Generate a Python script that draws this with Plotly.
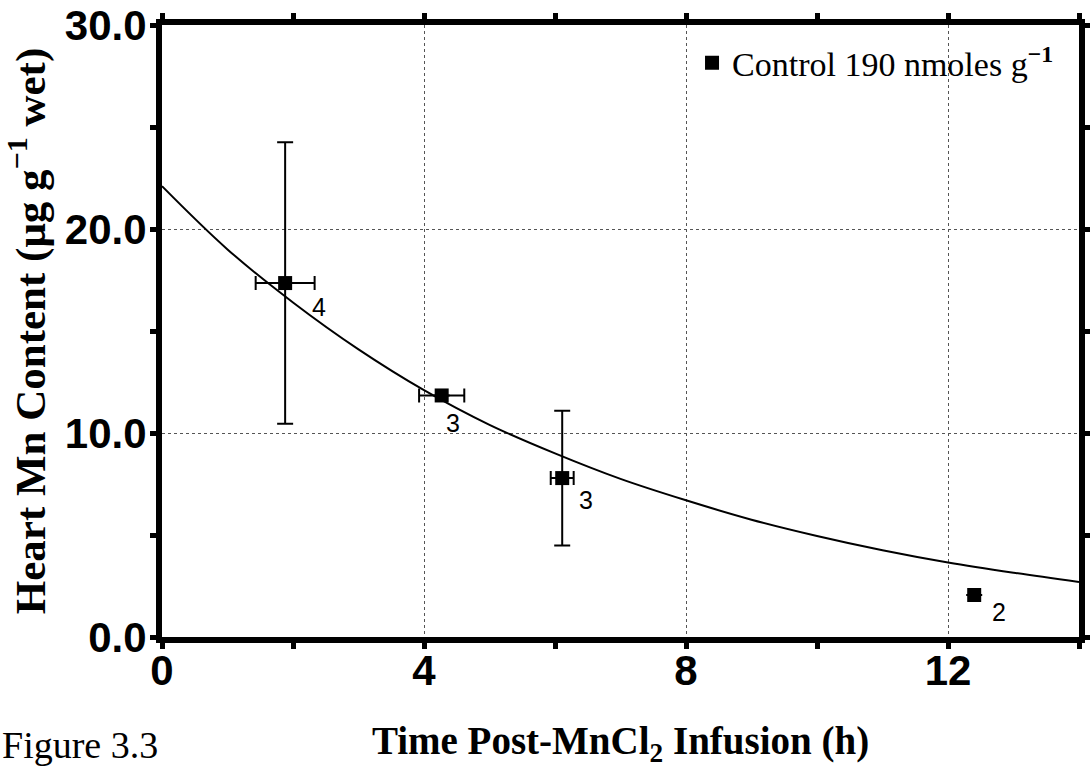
import plotly.graph_objects as go

# ---- data ----
time_h = [1.88, 4.27, 6.11, 12.40]
mn_content = [17.35, 11.84, 7.79, 2.06]
time_err = [0.45, 0.345, 0.175, 0.0]
mn_err = [6.9, 0.0, 3.3, 0.0]
n_animals = ["4", "3", "3", "2"]

curve_t = [0, 1, 2, 3, 4, 5, 6, 7, 8, 9, 10, 11, 12, 13, 14]
curve_y = [22.1, 19.0, 16.4, 14.1, 12.1, 10.4, 9.0, 7.75, 6.7, 5.75, 4.95, 4.25, 3.65, 3.15, 2.7]

x_ticks = [0, 4, 8, 12]
x_tick_labels = ["0", "4", "8", "12"]
y_ticks = [0, 10, 20, 30]
y_tick_labels = ["0.0", "10.0", "20.0", "30.0"]

legend_name = "Control 190 nmoles g<sup><b>\u22121</b></sup>"

# label offsets in pixels (dx, dy) for the n labels
label_offsets = [(34, -24), (11, -28), (24, -22), (25, -17)]

fig = go.Figure()

fig.add_trace(go.Scatter(
    x=curve_t, y=curve_y, mode="lines", line=dict(color="black", width=2, shape="spline"),
    showlegend=False, hoverinfo="skip"))

fig.add_trace(go.Scatter(
    x=time_h, y=mn_content, mode="markers", name=legend_name,
    marker=dict(symbol="square", size=14, color="black"),
    error_x=dict(type="data", array=time_err, visible=True, color="black", thickness=2, width=7),
    error_y=dict(type="data", array=mn_err, visible=True, color="black", thickness=2, width=8),
))

for xv, yv, lab, (dx, dy) in zip(time_h, mn_content, n_animals, label_offsets):
    fig.add_annotation(x=xv, y=yv, text=lab, showarrow=False, xshift=dx, yshift=dy,
                       font=dict(family="Liberation Sans, Arial", size=25, color="black"))

fig.add_annotation(xref="paper", yref="paper", x=-0.1767, y=-0.176, xanchor="left", yanchor="middle",
                   text="Figure 3.3", showarrow=False,
                   font=dict(family="Liberation Serif, Times New Roman", size=38, color="black"))

axis_common = dict(
    showline=True, linewidth=6, linecolor="black", mirror="allticks",
    ticks="outside", ticklen=6, tickwidth=5, tickcolor="black",
    showgrid=True, gridcolor="#555555", gridwidth=1, griddash="dot",
    zeroline=False, automargin=False,
    tickfont=dict(family="Liberation Sans, Arial", size=42, color="black", weight="bold"),
)

fig.update_xaxes(
    range=[0, 14], tickmode="array", tickvals=x_ticks, ticktext=x_tick_labels,
    ticklabelstandoff=-14,
    minor=dict(dtick=2, ticks="outside", ticklen=6, tickwidth=5, tickcolor="black", showgrid=False),
    title=dict(text="Time Post-MnCl<sub>2</sub> Infusion (h)", standoff=47,
               font=dict(family="Liberation Serif, Times New Roman", size=39, color="black", weight="bold")),
    **axis_common)

fig.update_yaxes(
    range=[0, 30], tickmode="array", tickvals=y_ticks, ticktext=y_tick_labels,
    ticklabelstandoff=-5,
    minor=dict(dtick=5, ticks="outside", ticklen=6, tickwidth=5, tickcolor="black", showgrid=False),
    title=dict(text="Heart Mn Content (\u03bcg g<sup>\u22121</sup> wet)", standoff=17,
               font=dict(family="Liberation Serif, Times New Roman", size=43, color="black", weight="bold")),
    **axis_common)

fig.update_layout(
    width=1090, height=768,
    margin=dict(l=162, r=11, t=25, b=131),
    plot_bgcolor="white", paper_bgcolor="white",
    legend=dict(x=0.578, y=0.985, xanchor="left", yanchor="top",
                bgcolor="rgba(0,0,0,0)",
                font=dict(family="Liberation Serif, Times New Roman", size=34, color="black")),
)

fig.write_html("out.html")
